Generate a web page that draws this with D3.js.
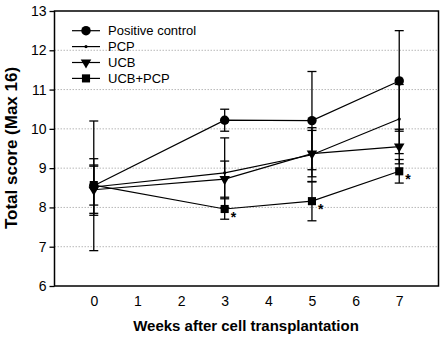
<!DOCTYPE html>
<html>
<head>
<meta charset="utf-8">
<script src="https://cdn.jsdelivr.net/npm/d3@7"></script>
<style>
  body { margin: 0; background: #fff; }
  svg { font-family: "Liberation Sans", Arial, sans-serif; }
</style>
</head>
<body>
<div id="container"></div>
<script>
// weeks after transplantation and group means / SD
const weeks = [0, 3, 5, 7]
const xTicks = [0, 1, 2, 3, 4, 5, 6, 7]
const yTicks = [6, 7, 8, 9, 10, 11, 12, 13]

const groupNames = ["Positive control", "PCP", "UCB", "UCB+PCP"]
const positiveControl = [8.55, 10.22, 10.21, 11.22]
const positiveControlSd = [1.65, 0.28, 1.25, 1.28]
const pcp = [8.52, 8.88, 9.34, 10.25]
const pcpSd = [0.72, 0.89, 0.69, 0.88]
const ucb = [8.45, 8.72, 9.37, 9.55]
const ucbSd = [0.6, 0.46, 0.59, 0.44]
const ucbPcp = [8.57, 7.96, 8.16, 8.92]
const ucbPcpSd = [0.51, 0.26, 0.5, 0.3]
// weeks where UCB+PCP is marked significant
const starWeeks = [3, 5, 7]

const width = 447, height = 340
const margin = {top: 11, right: 8.5, bottom: 54, left: 54.5}

const svg = d3.select("#container").append("svg")
    .attr("width", width)
    .attr("height", height)

const x = d3.scaleLinear().domain([-0.9, 7.9]).range([margin.left, width - margin.right])
const y = d3.scaleLinear().domain([6, 13]).range([height - margin.bottom, margin.top])

const symbols = [
    {type: d3.symbolCircle, size: 70, rotate: 0},
    {type: d3.symbolCircle, size: 8, rotate: 0},
    {type: d3.symbolTriangle, size: 48, rotate: 180},
    {type: d3.symbolSquare, size: 66, rotate: 0}
]

const groups = [
    {name: groupNames[0], mean: positiveControl, sd: positiveControlSd, sym: symbols[0]},
    {name: groupNames[1], mean: pcp, sd: pcpSd, sym: symbols[1]},
    {name: groupNames[2], mean: ucb, sd: ucbSd, sym: symbols[2]},
    {name: groupNames[3], mean: ucbPcp, sd: ucbPcpSd, sym: symbols[3]}
]

// dotted gridlines
svg.append("g")
    .selectAll("line")
    .data(yTicks.filter(d => d > 6 && d < 13))
    .enter()
    .append("line")
    .attr("x1", margin.left)
    .attr("x2", width - margin.right)
    .attr("y1", d => y(d))
    .attr("y2", d => y(d))
    .style("stroke", "#b8b8b8")
    .style("stroke-width", 1)
    .style("stroke-dasharray", "1.5,1.5")

// axes
const yAxis = svg.append("g")
    .attr("transform", `translate(${margin.left},0)`)
    .call(d3.axisLeft(y).tickValues(yTicks).tickFormat(d3.format("d")).tickSize(5).tickPadding(3))
yAxis.select(".domain").remove()
yAxis.selectAll("line").style("stroke-width", 1.3)
yAxis.selectAll("text").style("font-size", "14px").style("fill", "#000")

const xAxis = svg.append("g")
    .attr("transform", `translate(0,${height - margin.bottom})`)
    .call(d3.axisBottom(x).tickValues(xTicks).tickFormat(d3.format("d")).tickSize(0).tickPadding(10))
xAxis.select(".domain").remove()
xAxis.selectAll("text").style("font-size", "14px").style("fill", "#000")

// frame
svg.append("rect")
    .attr("x", margin.left)
    .attr("y", margin.top)
    .attr("width", width - margin.left - margin.right)
    .attr("height", height - margin.top - margin.bottom)
    .style("fill", "none")
    .style("stroke", "#000")
    .style("stroke-width", 1.5)

const line = d3.line()
    .x((d, i) => x(weeks[i]))
    .y(d => y(d))

groups.forEach(g => {
    svg.append("path")
        .attr("d", line(g.mean))
        .style("fill", "none")
        .style("stroke", "#000")
        .style("stroke-width", 1.2)
})

// error bars
groups.forEach(g => {
    const bars = svg.append("g")
        .selectAll("g")
        .data(g.mean)
        .enter()
        .append("g")
        .style("stroke", "#000")
        .style("stroke-width", 1.3)
    bars.append("line")
        .attr("x1", (d, i) => x(weeks[i]))
        .attr("x2", (d, i) => x(weeks[i]))
        .attr("y1", (d, i) => y(d - g.sd[i]))
        .attr("y2", (d, i) => y(d + g.sd[i]))
    bars.append("line")
        .attr("x1", (d, i) => x(weeks[i]) - 4.5)
        .attr("x2", (d, i) => x(weeks[i]) + 4.5)
        .attr("y1", (d, i) => y(d + g.sd[i]))
        .attr("y2", (d, i) => y(d + g.sd[i]))
    bars.append("line")
        .attr("x1", (d, i) => x(weeks[i]) - 4.5)
        .attr("x2", (d, i) => x(weeks[i]) + 4.5)
        .attr("y1", (d, i) => y(d - g.sd[i]))
        .attr("y2", (d, i) => y(d - g.sd[i]))
})

// markers
groups.forEach(g => {
    svg.append("g")
        .selectAll("path")
        .data(g.mean)
        .enter()
        .append("path")
        .attr("d", d3.symbol().type(g.sym.type).size(g.sym.size))
        .attr("transform", (d, i) => `translate(${x(weeks[i])},${y(d)}) rotate(${g.sym.rotate})`)
        .style("fill", "#000")
})

// significance stars
svg.append("g")
    .selectAll("text")
    .data(starWeeks)
    .enter()
    .append("text")
    .attr("x", d => x(d) + 6)
    .attr("y", d => y(ucbPcp[weeks.indexOf(d)]) + 13)
    .style("font-size", "14px")
    .style("font-weight", "bold")
    .text("*")

// legend
const legend = svg.append("g")
    .selectAll("g")
    .data(groups)
    .enter()
    .append("g")
    .attr("transform", (d, i) => `translate(72,${30.7 + i * 15.9})`)

legend.append("line")
    .attr("x1", 0)
    .attr("x2", 28)
    .style("stroke", "#000")
    .style("stroke-width", 1.2)

legend.append("path")
    .attr("d", d => d3.symbol().type(d.sym.type).size(d.sym.size)())
    .attr("transform", d => `translate(14,0) rotate(${d.sym.rotate})`)
    .style("fill", "#000")

legend.append("text")
    .attr("x", 36)
    .attr("y", 4.6)
    .style("font-size", "13px")
    .text(d => d.name)

// axis titles
svg.append("text")
    .attr("x", 246)
    .attr("y", 331)
    .attr("text-anchor", "middle")
    .style("font-size", "15px")
    .style("font-weight", "bold")
    .text("Weeks after cell transplantation")

svg.append("text")
    .attr("transform", "translate(17,148) rotate(-90)")
    .attr("text-anchor", "middle")
    .style("font-size", "17px")
    .style("font-weight", "bold")
    .text("Total score (Max 16)")
</script>
</body>
</html>
